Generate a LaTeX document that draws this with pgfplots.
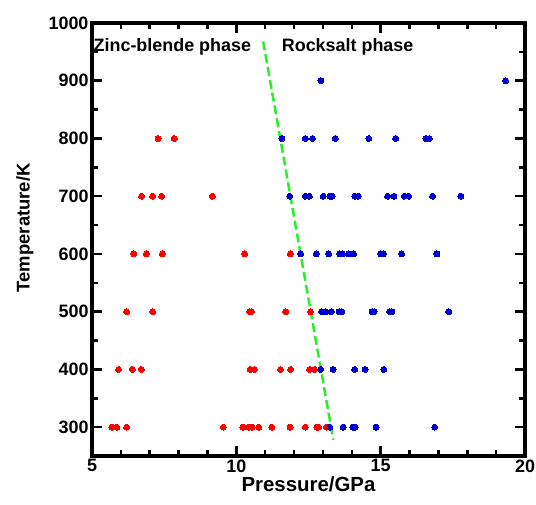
\documentclass[border=0pt]{standalone}
\usepackage{fontspec}
\setmainfont{Liberation Sans}
\usepackage{pgfplots}
\pgfplotsset{compat=1.18}
\usetikzlibrary{calc}
\definecolor{ptred}{RGB}{255,0,0}
\definecolor{ptblue}{RGB}{0,0,204}
\definecolor{bndgreen}{RGB}{40,240,40}
\begin{document}
\begin{tikzpicture}
\begin{axis}[
  width=433bp, height=433bp, scale only axis,
  xmin=5, xmax=20, ymin=250, ymax=1000,
  xtick={5,10,15,20}, ytick={300,400,...,1000},
  minor x tick num=4, minor y tick num=1,
  tick align=inside,
  major tick length=10bp, minor tick length=6bp,
  axis line style={line width=3.5bp},
  tick style={black, line width=2.5bp},
  /pgf/number format/assume math mode=true,
  /pgf/number format/set thousands separator={},
  tick label style={font=\fontsize{18}{18}\selectfont\bfseries},
  every axis x label/.style={at={(axis description cs:0.5,-0.083)}, anchor=base,
    font=\fontsize{20.5}{20.5}\selectfont\bfseries},
  every axis y label/.style={at={(axis description cs:-0.155,0.527)}, rotate=90, anchor=center,
    font=\fontsize{18.5}{18.5}\selectfont\bfseries},
  xlabel={Pressure/GPa},
  ylabel={Temperature/K},
  clip=false,
]
% phase boundary
\addplot[bndgreen, line width=2.5bp, dash pattern=on 9bp off 4bp] coordinates {(10.93,968) (13.36,278)};
% zinc-blende points
\addplot[ptred, only marks, mark=*, mark size=3bp, mark options={draw=ptred, fill=ptred, line width=0pt}] coordinates {
(5.69,300) (5.86,300) (6.20,300) (9.55,300) (10.23,300) (10.44,300) (10.55,300) (10.78,300) (11.23,300) (11.86,300) (12.39,300) (12.79,300) (12.85,300) (13.12,300)
(5.92,400) (6.40,400) (6.71,400) (10.48,400) (10.63,400) (11.53,400) (11.88,400) (12.54,400) (12.71,400)
(6.20,500) (7.10,500) (10.46,500) (10.52,500) (11.71,500) (12.57,500)
(6.45,600) (6.88,600) (7.44,600) (10.29,600) (11.87,600)
(6.72,700) (7.10,700) (7.41,700) (9.17,700)
(7.29,800) (7.85,800)
};
% rocksalt points
\addplot[ptblue, only marks, mark=*, mark size=3bp, mark options={draw=ptblue, fill=ptblue, line width=0pt}] coordinates {
(13.24,300) (13.70,300) (14.04,300) (14.12,300) (14.84,300) (16.87,300)
(12.92,400) (13.35,400) (14.10,400) (14.46,400) (15.11,400)
(12.96,500) (13.09,500) (13.29,500) (13.56,500) (13.65,500) (14.70,500) (14.77,500) (15.31,500) (15.39,500) (17.36,500)
(12.23,600) (12.77,600) (13.20,600) (13.58,600) (13.68,600) (13.89,600) (14.06,600) (15.01,600) (15.09,600) (15.73,600) (16.95,600)
(11.85,700) (12.39,700) (12.53,700) (13.01,700) (13.24,700) (13.32,700) (14.10,700) (14.22,700) (15.24,700) (15.46,700) (15.82,700) (15.97,700) (16.80,700) (17.78,700)
(11.58,800) (12.39,800) (12.64,800) (13.43,800) (14.59,800) (15.52,800) (16.57,800) (16.69,800)
(12.93,900) (19.33,900)
};
\node[anchor=base west, inner sep=0pt, font=\fontsize{18}{18}\selectfont\bfseries] at (axis cs:5.05,951) {Zinc-blende phase};
\node[anchor=base west, inner sep=0pt, font=\fontsize{18}{18}\selectfont\bfseries] at (axis cs:11.57,951) {Rocksalt phase};
\end{axis}
\pgfresetboundingbox
\path ($(current axis.south west)+(-92bp,-49bp)$) rectangle ($(current axis.north east)+(11bp,23bp)$);
\end{tikzpicture}
\end{document}
